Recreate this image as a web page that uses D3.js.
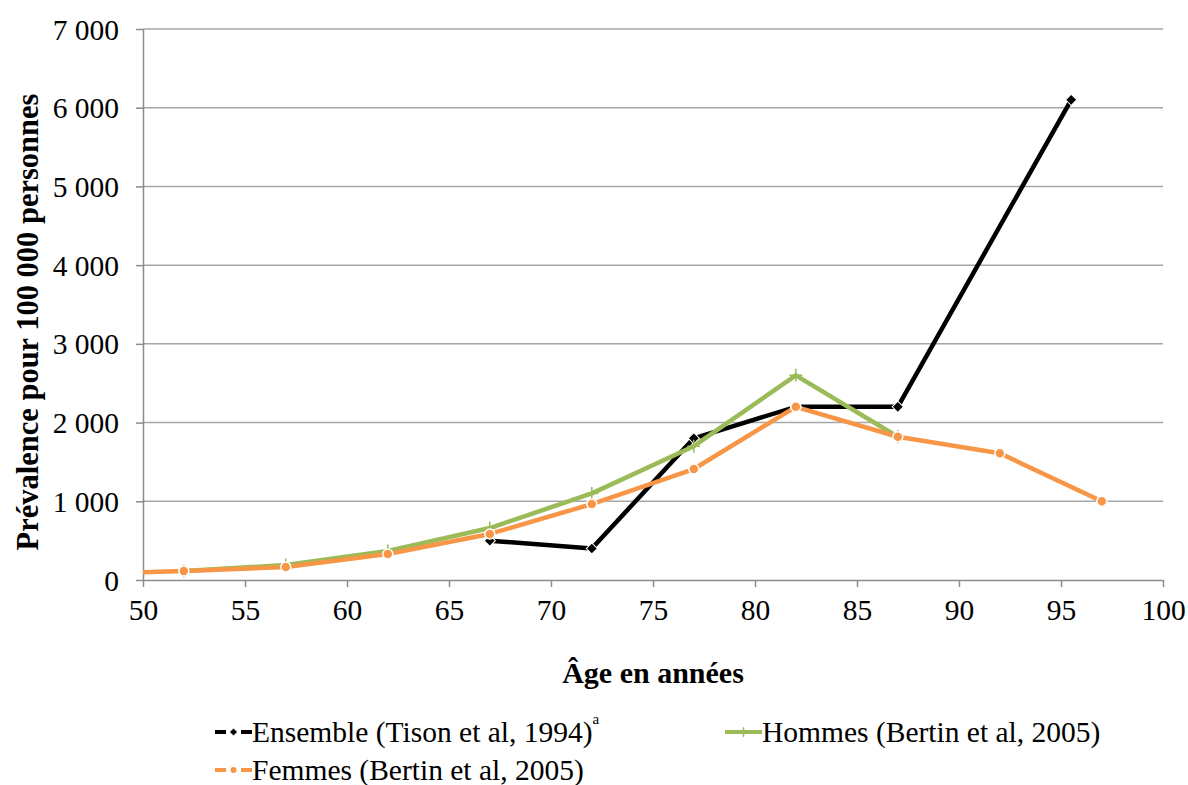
<!doctype html>
<html>
  <head>
    <meta charset="utf-8" />
    <style>
      body { margin: 0; background: #fff; }
      svg text { font-family: "Liberation Serif", serif !important; fill: #000; }
      .grid line { stroke: #a6a6a6; stroke-width: 1.5px; }
      .axis path, .axis line { stroke: #8c8c8c; stroke-width: 1.5px; }
    </style>
  </head>
  <body>
    <div id="chart"></div>
    <script src="https://cdn.jsdelivr.net/npm/d3@7"></script>
    <script>
      var xTicks = [50, 55, 60, 65, 70, 75, 80, 85, 90, 95, 100];
      var yTicks = [0, 1000, 2000, 3000, 4000, 5000, 6000, 7000];

      var ensembleAge = [67, 72, 77, 82, 87, 95.5];
      var ensembleVal = [500, 400, 1800, 2200, 2200, 6100];

      var hommesAge = [52, 57, 62, 67, 72, 77, 82, 87];
      var hommesVal = [115, 190, 370, 660, 1100, 1700, 2600, 1820];

      // first point lies left of the axis and is clipped, as in the original
      var femmesAge = [47, 52, 57, 62, 67, 72, 77, 82, 87, 92, 97];
      var femmesVal = [70, 115, 165, 330, 585, 965, 1410, 2200, 1820, 1610, 1000];

      var width = 1188, height = 785;

      var x = d3.scaleLinear().domain([50, 100]).range([143, 1163]);
      var y = d3.scaleLinear().domain([0, 7000]).range([580, 29]);

      var fmt = function(d) { return d3.format(",")(d).replace(",", " "); };
      var serif = "'Liberation Serif', serif";

      var svg = d3.select("#chart").append("svg")
                  .attr("width", width)
                  .attr("height", height);

      svg.append("defs").append("clipPath").attr("id", "plot")
         .append("rect")
         .attr("x", x(50)).attr("y", 0)
         .attr("width", x(100) - x(50)).attr("height", 600);

      // horizontal gridlines
      svg.append("g").attr("class", "grid")
         .selectAll("line").data(yTicks.slice(1)).enter().append("line")
         .attr("x1", x(50)).attr("x2", x(100))
         .attr("y1", function(d) { return y(d); })
         .attr("y2", function(d) { return y(d); });

      var yAxis = svg.append("g").attr("class", "axis")
                     .attr("transform", "translate(" + x(50) + ",0)")
                     .call(d3.axisLeft(y).tickValues(yTicks).tickFormat(fmt).tickSize(7).tickSizeOuter(0));
      yAxis.attr("font-family", serif);
      yAxis.selectAll("text").style("font-size", "29.5px").attr("x", -24).attr("dy", "0.34em");

      var xAxis = svg.append("g").attr("class", "axis")
                     .attr("transform", "translate(0," + y(0) + ")")
                     .call(d3.axisBottom(x).tickValues(xTicks).tickSize(7).tickSizeOuter(0));
      xAxis.attr("font-family", serif);
      xAxis.selectAll("text").style("font-size", "29.5px").attr("y", 19);

      svg.append("text")
         .attr("transform", "translate(38," + 322 + ") rotate(-90)")
         .attr("text-anchor", "middle")
         .style("font-size", "30.5px").style("font-weight", "bold")
         .text("Prévalence pour 100 000 personnes");

      svg.append("text")
         .attr("x", 653).attr("y", 683)
         .attr("text-anchor", "middle")
         .style("font-size", "30px").style("font-weight", "bold")
         .text("Âge en années");

      var series = [
        {name: "Ensemble (Tison et al, 1994)", age: ensembleAge, val: ensembleVal, color: "#000000", marker: "diamond"},
        {name: "Hommes (Bertin et al, 2005)", age: hommesAge, val: hommesVal, color: "#9bbb59", marker: "plus"},
        {name: "Femmes (Bertin et al, 2005)", age: femmesAge, val: femmesVal, color: "#f79646", marker: "circle"}
      ];

      var line = d3.line()
                   .x(function(d) { return x(d[0]); })
                   .y(function(d) { return y(d[1]); });

      function drawMarker(g, s, cx, cy, size) {
        var k = size || 1;
        if (s.marker === "diamond") {
          g.append("path")
           .attr("d", d3.symbol().type(d3.symbolSquare).size(62 * k * k)())
           .attr("transform", "translate(" + cx + "," + cy + ") rotate(45)")
           .style("fill", s.color).style("stroke", "#fff").style("stroke-width", 1);
        } else if (s.marker === "plus") {
          g.append("path")
           .attr("d", "M" + (-6.5 * k) + ",0H" + (6.5 * k) + "M0," + (-6.5 * k) + "V" + (6.5 * k))
           .attr("transform", "translate(" + cx + "," + cy + ")")
           .style("stroke", s.color).style("stroke-width", 1.5).style("fill", "none");
        } else {
          g.append("circle")
           .attr("cx", cx).attr("cy", cy).attr("r", 5 * k)
           .style("fill", s.color).style("stroke", "#fff").style("stroke-width", 1.5);
        }
      }

      var plot = svg.append("g").attr("clip-path", "url(#plot)");
      series.forEach(function(s) {
        var pts = s.age.map(function(a, i) { return [a, s.val[i]]; });
        plot.append("path")
            .datum(pts)
            .attr("d", line)
            .style("fill", "none")
            .style("stroke", s.color)
            .style("stroke-width", 4.5)
            .style("stroke-linejoin", "round");
      });
      series.forEach(function(s) {
        var g = plot.append("g");
        s.age.forEach(function(a, i) { drawMarker(g, s, x(a), y(s.val[i])); });
      });

      // legend
      var legendPos = [[215, 732], [725, 732], [215, 770]];
      series.forEach(function(s, i) {
        var p = legendPos[i];
        var g = svg.append("g").attr("transform", "translate(" + p[0] + "," + p[1] + ")");
        g.append("line").attr("x1", 0).attr("x2", 37).attr("y1", 0).attr("y2", 0)
         .style("stroke", s.color).style("stroke-width", 4)
         .style("stroke-dasharray", s.marker === "plus" ? null : "11,4,7,4,11");
        drawMarker(g, s, 18.5, 0, 0.75);
        var t = g.append("text").attr("x", 37).attr("y", 10).style("font-size", "29.5px").text(s.name);
        if (i === 0) {
          t.append("tspan").attr("dy", -18).style("font-size", "15px").text("a");
        }
      });
    </script>
  </body>
</html>
